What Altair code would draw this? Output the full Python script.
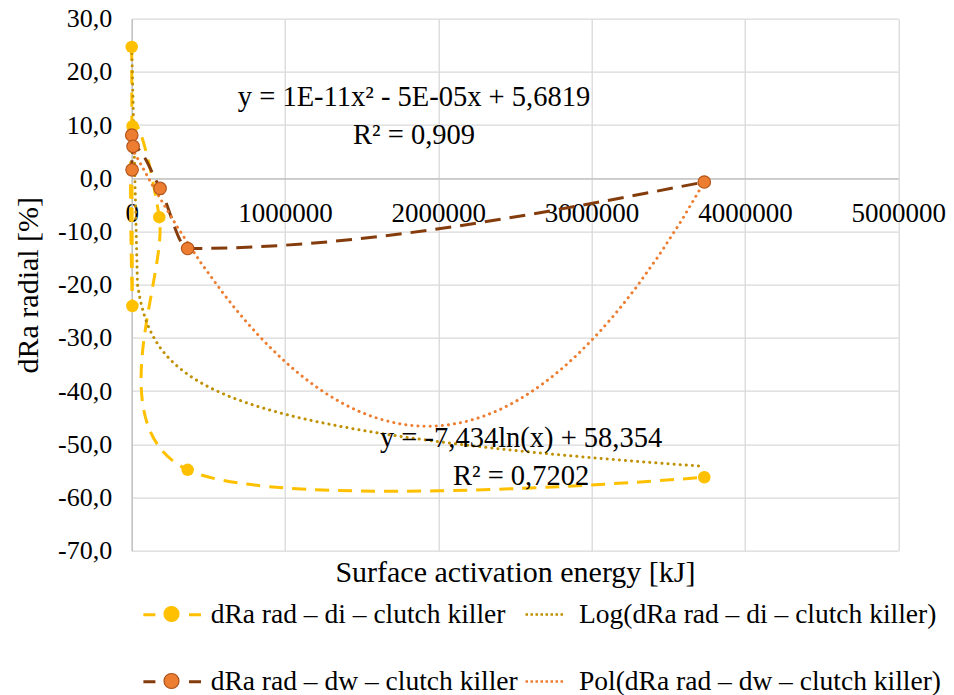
import altair as alt
import pandas as pd

FONT = "'Liberation Serif', 'Times New Roman', 'DejaVu Serif', serif"

# Measured series: surface activation energy [kJ] and dRa radial [%]
di_energy = [94, 4440, 5553, 180000, 365000, 3735000]
di_dra = [24.7, -24.0, 9.8, -7.3, -54.8, -56.2]
dw_energy = [300, 2500, 9000, 185000, 365000, 3735000]
dw_dra = [8.1, 1.6, 6.0, -1.9, -13.2, -0.7]

series_labels = ["dRa rad \u2013 di \u2013 clutch killer", "dRa rad \u2013 dw \u2013 clutch killer"]
trend_labels = ["Log(dRa rad \u2013 di \u2013 clutch killer)", "Pol(dRa rad \u2013 dw \u2013 clutch killer)"]

x_ticks = [0, 1000000, 2000000, 3000000, 4000000, 5000000]
y_ticks = [-70, -60, -50, -40, -30, -20, -10, 0, 10, 20, 30]

# Trendline equations written next to the fitted curves
eq_text = ["y = 1E-11x\u00b2 - 5E-05x + 5,6819", "R\u00b2 = 0,909",
           "y = -7,434ln(x) + 58,354", "R\u00b2 = 0,7202"]
eq_energy = [1841500, 1841500, 2540000, 2540000]
eq_dra = [13.6, 6.5, -50.5, -57.6]

GOLD = "#FFC000"
GOLD_DARK = "#BF9000"
BROWN = "#843C0C"
ORANGE = "#ED7D31"

W, H = 766.5, 532
PAD_L, PAD_T = 131.7, 18.7
LABEL_SIZE = 27.5

di_df = pd.DataFrame({"energy": di_energy, "dra": di_dra,
                      "series": series_labels[0], "trend": trend_labels[0], "marker": "di"})
dw_df = pd.DataFrame({"energy": dw_energy, "dra": dw_dra,
                      "series": series_labels[1], "trend": trend_labels[1], "marker": "dw"})
eq_df = pd.DataFrame({"energy": eq_energy, "dra": eq_dra, "text": eq_text})

x_enc = alt.X(
    "energy:Q",
    scale=alt.Scale(domain=[0, 5000000], nice=False, zero=False),
    axis=alt.Axis(
        values=x_ticks, format="d", offset=-372.4, labelPadding=22, ticks=False, tickSize=0,
        labelFont=FONT, labelFontSize=27, labelColor="#000000", labelFlush=False, labelOverlap=False,
        domainColor="#BFBFBF", domainWidth=1.3, grid=True, gridColor="#D9D9D9", gridWidth=1.3,
        title="Surface activation energy [kJ]", titleFont=FONT, titleFontSize=30,
        titleFontWeight="normal", titleColor="#000000", titleY=393.7, titleBaseline="middle",
    ),
)
y_enc = alt.Y(
    "dra:Q",
    scale=alt.Scale(domain=[-70, 30], nice=False, zero=False),
    axis=alt.Axis(
        values=y_ticks,
        labelExpr="replace(replace(format(datum.value, '.1f'), '.', ','), '\u2212', '-')",
        labelPadding=20, ticks=False, tickSize=0, labelFlush=False,
        labelFont=FONT, labelFontSize=26, labelColor="#000000",
        domainColor="#BFBFBF", domainWidth=1.3, grid=True, gridColor="#D9D9D9", gridWidth=1.3,
        title="dRa radial [%]", titleFont=FONT, titleFontSize=30, titleFontWeight="normal",
        titleColor="#000000", titleX=-103.7, titleY=H / 2, titleBaseline="middle",
    ),
)

ROW1, ROW2 = 613, 680


def legend_at(x, row_center, entry_h, **kw):
    return alt.Legend(
        title=None, orient="none", legendX=x, legendY=row_center - PAD_T - entry_h / 2,
        padding=0, labelFont=FONT, labelColor="#000000", labelLimit=0, **kw
    )


def line_legend(row, dash, width, offset, x, stroke_w):
    return legend_at(x, row, max(width, LABEL_SIZE), symbolType="stroke", symbolSize=width * width,
                     symbolDash=dash, symbolStrokeWidth=stroke_w,
                     labelOffset=offset, labelFontSize=LABEL_SIZE)


def point_legend(row, fill, edge):
    return legend_at(170.5 - 7.5 - PAD_L, row, 15, symbolType="circle", symbolSize=225,
                     symbolFillColor=fill, symbolStrokeColor=edge, symbolStrokeWidth=1.2,
                     symbolOpacity=1, labelExpr="''", labelFontSize=1, labelOffset=0)


di_line = alt.Chart(di_df).mark_line(
    interpolate="cardinal", tension=0, strokeDash=[14, 9], strokeWidth=3
).encode(
    x=x_enc, y=y_enc,
    stroke=alt.Stroke("series:N", scale=alt.Scale(range=[GOLD]),
                      legend=line_legend(ROW1, [12, 33.6], 57.6, 8, 10, 3)),
)
dw_line = alt.Chart(dw_df).mark_line(
    interpolate="monotone", strokeDash=[16, 9], strokeWidth=3
).encode(
    x=x_enc, y=y_enc,
    stroke=alt.Stroke("series:N", scale=alt.Scale(range=[BROWN]),
                      legend=line_legend(ROW2, [12, 33.6], 57.6, 8, 10, 3)),
)

log_fit = alt.Chart(di_df).transform_regression(
    "energy", "dra", method="log", groupby=["trend"]
).mark_line(strokeDash=[0.1, 6], strokeCap="round", strokeWidth=3).encode(
    x=x_enc, y=y_enc,
    stroke=alt.Stroke("trend:N", scale=alt.Scale(range=[GOLD_DARK]),
                      legend=line_legend(ROW1, [2.5, 2.5], 40, 12, 524 - PAD_L, 2.5)),
)
pol_fit = alt.Chart(dw_df).transform_regression(
    "energy", "dra", method="poly", order=2, groupby=["trend"]
).mark_line(strokeDash=[0.1, 6], strokeCap="round", strokeWidth=3).encode(
    x=x_enc, y=y_enc,
    stroke=alt.Stroke("trend:N", scale=alt.Scale(range=[ORANGE]),
                      legend=line_legend(ROW2, [2.5, 2.5], 40, 12, 524 - PAD_L, 2.5)),
)

di_pts = alt.Chart(di_df).mark_point(filled=True, size=156, opacity=1, shape="circle").encode(
    x=x_enc, y=y_enc,
    fill=alt.Fill("marker:N", scale=alt.Scale(range=[GOLD]), legend=point_legend(ROW1, GOLD, GOLD)),
)
dw_pts = alt.Chart(dw_df).mark_point(
    filled=True, size=156, opacity=1, shape="circle", stroke="#B4561C", strokeWidth=1.2
).encode(
    x=x_enc, y=y_enc,
    fill=alt.Fill("marker:N", scale=alt.Scale(range=[ORANGE]), legend=point_legend(ROW2, ORANGE, "#A9501A")),
)

equations = alt.Chart(eq_df).mark_text(
    font=FONT, fontSize=28.5, color="#000000", align="center", baseline="alphabetic"
).encode(x=x_enc, y=y_enc, text="text:N")

chart = alt.layer(
    di_line, dw_line, log_fit, pol_fit, di_pts, dw_pts, equations
).resolve_scale(
    stroke="independent", fill="independent"
).properties(
    width=W, height=H,
    autosize=alt.AutoSizeParams(type="none"),
    padding={"left": PAD_L, "top": PAD_T, "right": 954 - PAD_L - W, "bottom": 695 - PAD_T - H},
    background="#FFFFFF",
).configure_view(strokeOpacity=0)

chart.save("out.html", embed_options={"renderer": "svg", "actions": False})
